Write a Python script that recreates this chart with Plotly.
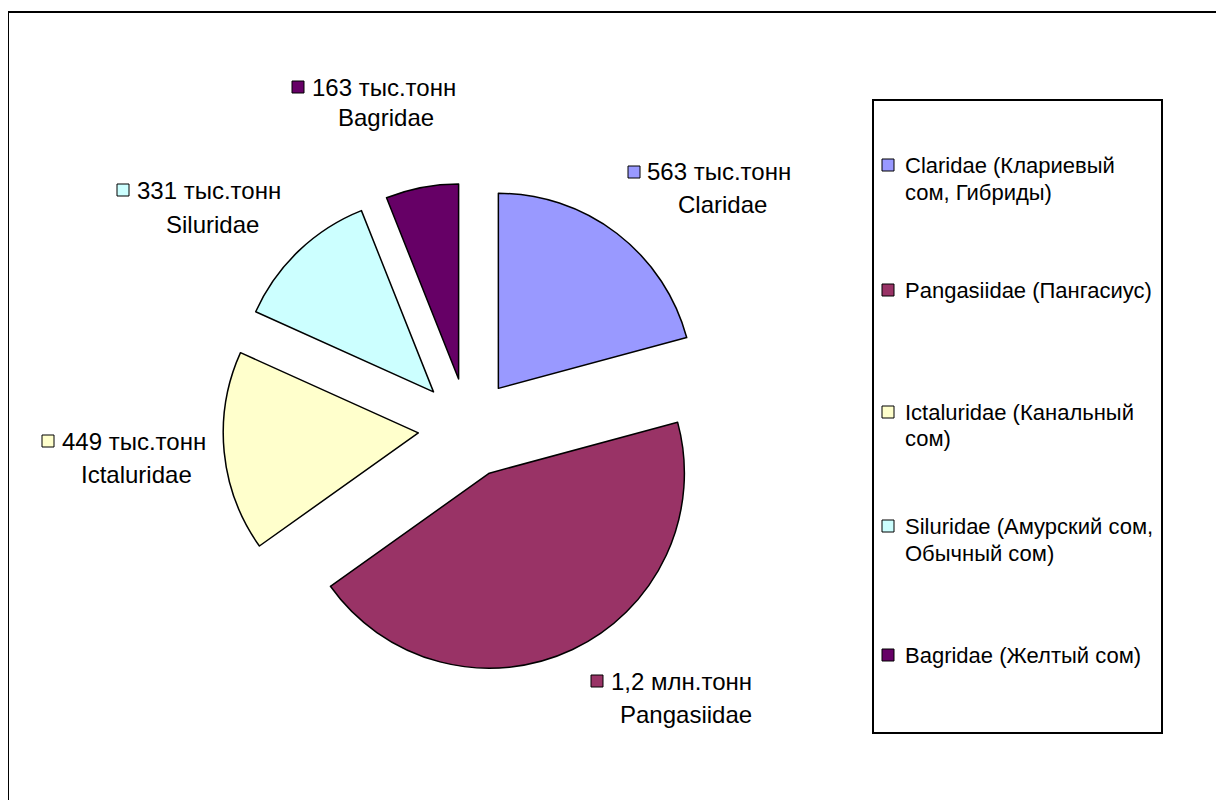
import plotly.graph_objects as go

# data (thousand tonnes)
families = ["Claridae", "Pangasiidae", "Ictaluridae", "Siluridae", "Bagridae"]
volumes = [563, 1200, 449, 331, 163]
value_labels = ["563 тыс.тонн", "1,2 млн.тонн", "449 тыс.тонн", "331 тыс.тонн", "163 тыс.тонн"]
legend_names = [
    ["Claridae (Клариевый", "сом, Гибриды)"],
    ["Pangasiidae (Пангасиус)"],
    ["Ictaluridae (Канальный", "сом)"],
    ["Siluridae (Амурский сом,", "Обычный сом)"],
    ["Bagridae (Желтый сом)"],
]
colors = ["#9999FF", "#993366", "#FFFFCC", "#CCFFFF", "#660066"]

W, H = 1224, 800
OFF = 8  # page body margin
FONT = "Liberation Sans, Arial, sans-serif"


def px(x):
    return (x - OFF) / W


def py(y):
    return 1 - (y - OFF) / H


fig = go.Figure()

fig.add_trace(go.Pie(
    labels=families,
    values=volumes,
    sort=False,
    direction="clockwise",
    rotation=0,
    pull=[0.256] * len(volumes),
    marker=dict(colors=colors, line=dict(color="black", width=1.5)),
    textinfo="none",
    hoverinfo="label+value",
    showlegend=False,
    domain=dict(x=[px(223), px(713)], y=[py(673), py(183)]),
))

shapes = []
annotations = []

# outer frame (right/bottom edges fall outside the picture)
shapes.append(dict(type="rect", xref="paper", yref="paper",
                   x0=px(8), x1=px(1250), y0=py(12), y1=py(830),
                   line=dict(color="black", width=2)))

# slice labels: square + value on the first line, family name below
label_pos = [  # (square x, text start x, line1 y, line2 center x, line2 y)
    (634, 645, 172, 722, 205),
    (597, 609, 681, 686, 714),
    (48, 60, 441, 136, 474),
    (123, 135, 190, 212, 224),
    (298, 310, 87, 386, 118),
]
for i, (sx, tx, y1, cx, y2) in enumerate(label_pos):
    shapes.append(dict(type="rect", xref="paper", yref="paper",
                       x0=px(sx - 6), x1=px(sx + 6), y0=py(y1 - 6), y1=py(y1 + 6),
                       fillcolor=colors[i], line=dict(color="black", width=1)))
    annotations.append(dict(xref="paper", yref="paper", x=px(tx), y=py(y1),
                            xanchor="left", yanchor="middle", showarrow=False,
                            text=value_labels[i], font=dict(size=24, color="black", family=FONT)))
    annotations.append(dict(xref="paper", yref="paper", x=px(cx), y=py(y2),
                            xanchor="center", yanchor="middle", showarrow=False,
                            text=families[i], font=dict(size=24, color="black", family=FONT)))

# legend box
shapes.append(dict(type="rect", xref="paper", yref="paper",
                   x0=px(873), x1=px(1162), y0=py(100), y1=py(733),
                   line=dict(color="black", width=2)))
legend_y = [165, 290, 412, 526, 655]
for i, lines in enumerate(legend_names):
    y0 = legend_y[i]
    shapes.append(dict(type="rect", xref="paper", yref="paper",
                       x0=px(882), x1=px(894), y0=py(y0 - 6), y1=py(y0 + 6),
                       fillcolor=colors[i], line=dict(color="black", width=1)))
    for j, line in enumerate(lines):
        annotations.append(dict(xref="paper", yref="paper", x=px(903), y=py(y0 + 27 * j),
                                xanchor="left", yanchor="middle", showarrow=False,
                                text=line, font=dict(size=22, color="black", family=FONT)))

fig.update_layout(
    width=W, height=H,
    margin=dict(l=0, r=0, t=0, b=0),
    paper_bgcolor="white",
    plot_bgcolor="white",
    shapes=shapes,
    annotations=annotations,
    font=dict(family=FONT),
)

fig.write_html("out.html")
